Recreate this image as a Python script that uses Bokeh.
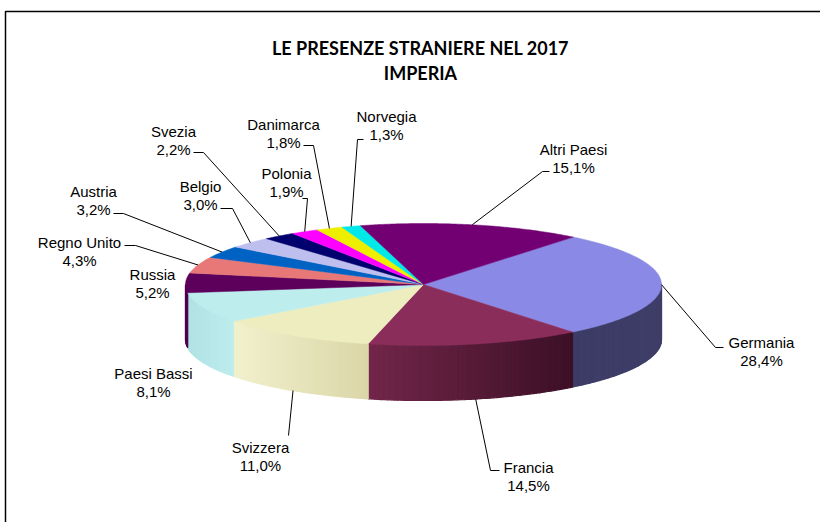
import math
from bokeh.plotting import figure
from bokeh.models import Range1d
from bokeh.core.properties import value
from bokeh.embed import file_html
from bokeh.resources import INLINE

# ---------------- data ----------------
title_lines = ["LE PRESENZE STRANIERE NEL 2017", "IMPERIA"]
categories = ["Germania", "Francia", "Svizzera", "Paesi Bassi", "Russia", "Regno Unito",
              "Austria", "Belgio", "Svezia", "Polonia", "Danimarca", "Norvegia", "Altri Paesi"]
shares = [28.4, 14.5, 11.0, 8.1, 5.2, 4.3, 3.2, 3.0, 2.2, 1.9, 1.8, 1.3, 15.1]

# ---------------- style ----------------
top_colors = ["#8A8AE6", "#8B2D5B", "#EEEDC0", "#BDEDED", "#5C005C", "#E87878",
              "#0063C3", "#BFBFEF", "#00006E", "#FF00FF", "#EEEE00", "#00E8E8", "#720072"]
side_left = [(60, 60, 102), (114, 38, 74), (242, 241, 205), (176, 226, 228), (78, 0, 78),
             (200, 100, 100), (0, 80, 160), (160, 160, 200), (0, 0, 90), (200, 0, 200),
             (200, 200, 0), (0, 190, 190), (90, 0, 90)]
side_right = [(62, 62, 104), (60, 16, 38), (218, 214, 168), (190, 237, 237), (78, 0, 78),
              (200, 100, 100), (0, 80, 160), (160, 160, 200), (0, 0, 90), (200, 0, 200),
              (200, 200, 0), (0, 190, 190), (90, 0, 90)]

# label layout: name centre (x, y), elbow point, end of short tick
label_pos = {
    "Germania": (761, 342), "Francia": (528, 467), "Svizzera": (260, 447),
    "Paesi Bassi": (153, 373), "Russia": (152, 274), "Regno Unito": (79, 242),
    "Austria": (93, 191), "Belgio": (200, 186), "Svezia": (173, 131),
    "Polonia": (286, 173), "Danimarca": (283, 124), "Norvegia": (386, 116),
    "Altri Paesi": (573, 149),
}
leader = {
    "Germania": ((715, 347), (723, 347)),
    "Francia": ((490, 470), (499, 470)),
    "Svizzera": ((288, 435), (288, 435)),
    "Regno Unito": ((135, 245), (124, 245)),
    "Austria": ((123, 213), (113, 213)),
    "Belgio": ((232, 208), (220, 208)),
    "Svezia": ((203, 152), (193, 152)),
    "Polonia": ((307, 198), (302, 198)),
    "Danimarca": ((313, 145), (303, 145)),
    "Norvegia": ((357, 139), (363, 139)),
    "Altri Paesi": ((542, 171), (549, 171)),
}

CX, CY, RX, RY, DEPTH = 423.0, 284.0, 238.0, 61.0, 55.0
START = 51.0  # degrees, first slice start (counter-clockwise from east)
LABEL_FONT = "Liberation Sans, Arial, sans-serif"
TITLE_FONT = "Lato, sans-serif"


def ex(t):
    return CX + RX * math.cos(math.radians(t))


def ey(t):
    return CY - RY * math.sin(math.radians(t))


p = figure(width=820, height=522, x_range=Range1d(0, 820), y_range=Range1d(522, 0),
           output_backend="svg", toolbar_location=None, min_border=0,
           x_axis_location=None, y_axis_location=None)
p.grid.visible = False
p.outline_line_color = None
p.background_fill_color = "white"
p.border_fill_color = "white"

# frame of the chart area
p.line(x=[5, 5, 820], y=[522, 11, 11], line_color="black", line_width=1.5)

total = sum(shares)
starts, ends = [], []
a = START
for v in shares:
    starts.append(a)
    a -= v / total * 360.0
    ends.append(a)

# ---- side faces (front half only) ----
sx, sy, sc = [], [], []
for i, (s, e) in enumerate(zip(starts, ends)):
    for k in (0, -1):
        lo = max(e, -180 + 360 * k)
        hi = min(s, 0 + 360 * k)
        if hi <= lo:
            continue
        n = max(2, int((hi - lo) / 0.8))
        for j in range(n):
            t1 = hi - (hi - lo) * j / n
            t2 = hi - (hi - lo) * (j + 1) / n
            xm = (ex(t1) + ex(t2)) / 2
            f = (xm - ex(lo)) / (ex(hi) - ex(lo)) if ex(lo) != ex(hi) else 0
            cl, cr = side_left[i], side_right[i]
            col = "#%02x%02x%02x" % tuple(int(round(cl[c] + (cr[c] - cl[c]) * f)) for c in range(3))
            sx.append([ex(t1), ex(t2), ex(t2), ex(t1)])
            sy.append([ey(t1), ey(t2), ey(t2) + DEPTH, ey(t1) + DEPTH])
            sc.append(col)
p.patches(xs=sx, ys=sy, fill_color=sc, line_color=sc, line_width=1.2)

# ---- top faces ----
tx, ty = [], []
for s, e in zip(starts, ends):
    n = max(4, int((s - e) / 0.5))
    pts = [s - (s - e) * j / n for j in range(n + 1)]
    tx.append([CX] + [ex(t) for t in pts])
    ty.append([CY] + [ey(t) for t in pts])
p.patches(xs=tx, ys=ty, fill_color=top_colors, line_color=top_colors, line_width=0.5)

# ---- leaders ----
lx, ly = [], []
for i, c in enumerate(categories):
    if c not in leader:
        continue
    mid = (starts[i] + ends[i]) / 2
    ax, ay = ex(mid), ey(mid)
    if math.sin(math.radians(mid)) < -0.3:
        ay += DEPTH
    (bx, by), (cx2, cy2) = leader[c]
    lx.append([ax, bx, cx2])
    ly.append([ay, by, cy2])
p.multi_line(xs=lx, ys=ly, line_color="black", line_width=1)

# ---- labels ----
names_x = [label_pos[c][0] for c in categories]
names_y = [label_pos[c][1] for c in categories]
pct = [("%.1f" % v).replace(".", ",") + "%" for v in shares]
p.text(x=names_x, y=names_y, text=categories, text_align="center", text_baseline="middle",
       text_font=value(LABEL_FONT), text_font_size="15px", text_color="black")
p.text(x=names_x, y=[y + 18 for y in names_y], text=pct, text_align="center",
       text_baseline="middle", text_font=value(LABEL_FONT), text_font_size="15px",
       text_color="black")

# ---- title ----
p.text(x=[420, 420], y=[47, 72], text=title_lines, text_align="center", text_baseline="middle",
       text_font=value(TITLE_FONT), text_font_size="18px", text_font_style="bold",
       text_color="black")

open("out.html", "w").write(file_html(p, INLINE))
